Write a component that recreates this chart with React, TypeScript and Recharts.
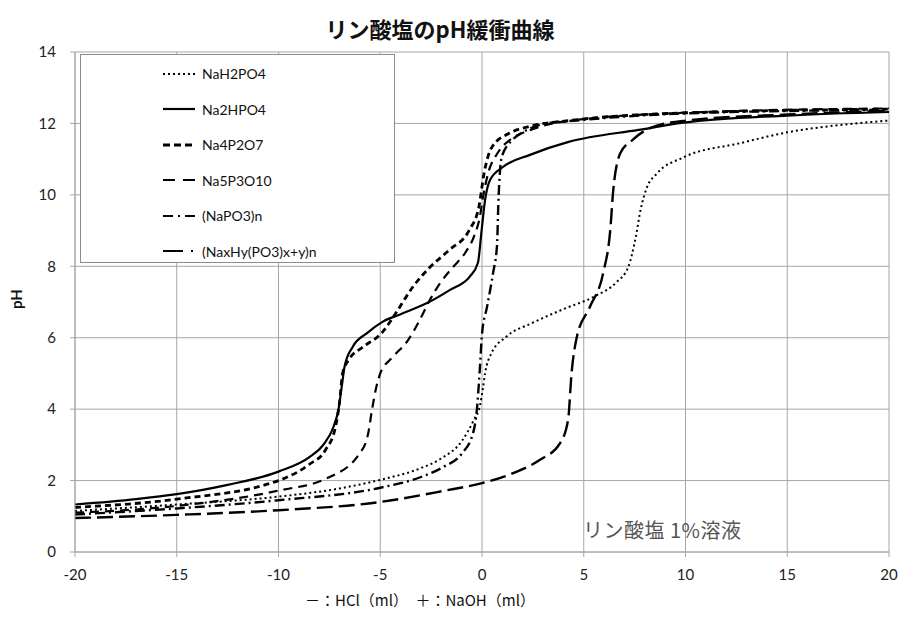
import React from 'react';
import { LineChart, Line, XAxis, YAxis, CartesianGrid } from 'recharts';

// 滴定量 (ml) と pH の読み取り値
const naH2PO4 = [
  { x: -20, y: 1.15 }, { x: -15, y: 1.33 }, { x: -10, y: 1.55 }, { x: -7, y: 1.78 },
  { x: -5, y: 2.02 }, { x: -3, y: 2.35 }, { x: -2, y: 2.62 }, { x: -1, y: 3.1 },
  { x: -0.4, y: 3.7 }, { x: -0.1, y: 4.1 }, { x: 0.05, y: 4.6 }, { x: 0.15, y: 5.0 },
  { x: 0.45, y: 5.55 }, { x: 1.2, y: 6.03 }, { x: 2.5, y: 6.42 }, { x: 4, y: 6.8 },
  { x: 5.5, y: 7.15 }, { x: 6.6, y: 7.55 }, { x: 7.2, y: 8.0 }, { x: 7.55, y: 8.8 },
  { x: 7.8, y: 9.6 }, { x: 8.1, y: 10.2 }, { x: 8.6, y: 10.6 }, { x: 9.9, y: 11.05 },
  { x: 12.7, y: 11.45 }, { x: 15, y: 11.75 }, { x: 17.5, y: 11.95 }, { x: 20, y: 12.08 },
];

const na2HPO4 = [
  { x: -20, y: 1.33 }, { x: -17, y: 1.48 }, { x: -15, y: 1.62 }, { x: -12.5, y: 1.88 },
  { x: -10, y: 2.25 }, { x: -8.5, y: 2.65 }, { x: -7.8, y: 3.0 }, { x: -7.3, y: 3.5 },
  { x: -7.05, y: 4.0 }, { x: -6.9, y: 4.6 }, { x: -6.75, y: 5.2 }, { x: -6.35, y: 5.75 },
  { x: -5.65, y: 6.13 }, { x: -4.87, y: 6.45 }, { x: -4.0, y: 6.66 }, { x: -2.7, y: 6.97 },
  { x: -1.57, y: 7.34 }, { x: -0.6, y: 7.71 }, { x: -0.2, y: 8.1 }, { x: -0.02, y: 9.0 },
  { x: 0.15, y: 9.85 }, { x: 0.4, y: 10.42 }, { x: 1.03, y: 10.78 }, { x: 2.36, y: 11.12 },
  { x: 4.3, y: 11.49 }, { x: 7.7, y: 11.82 }, { x: 9.9, y: 12.02 }, { x: 15, y: 12.22 },
  { x: 20, y: 12.32 },
];

const na4P2O7 = [
  { x: -20, y: 1.25 }, { x: -15, y: 1.48 }, { x: -10, y: 2.0 }, { x: -8.5, y: 2.45 },
  { x: -7.7, y: 2.85 }, { x: -7.2, y: 3.5 }, { x: -7.0, y: 4.2 }, { x: -6.85, y: 5.0 },
  { x: -6.5, y: 5.42 }, { x: -5.9, y: 5.72 }, { x: -4.9, y: 6.15 }, { x: -4.2, y: 6.72 },
  { x: -3.4, y: 7.42 }, { x: -2.6, y: 7.95 }, { x: -1.6, y: 8.46 }, { x: -0.64, y: 9.0 },
  { x: -0.15, y: 9.67 }, { x: 0.1, y: 10.6 }, { x: 0.5, y: 11.35 }, { x: 1.36, y: 11.73 },
  { x: 2.35, y: 11.92 }, { x: 4.3, y: 12.08 }, { x: 9.2, y: 12.28 }, { x: 20, y: 12.4 },
];

const na5P3O10 = [
  { x: -20, y: 1.1 }, { x: -15, y: 1.29 }, { x: -10, y: 1.72 }, { x: -7.6, y: 2.07 },
  { x: -6.0, y: 2.77 }, { x: -5.6, y: 3.3 }, { x: -5.4, y: 4.0 }, { x: -5.2, y: 4.6 },
  { x: -5.0, y: 5.0 }, { x: -4.4, y: 5.45 }, { x: -3.65, y: 5.92 }, { x: -3.1, y: 6.45 },
  { x: -2.56, y: 7.06 }, { x: -2.06, y: 7.53 }, { x: -1.42, y: 7.98 }, { x: -0.8, y: 8.4 },
  { x: -0.35, y: 8.9 }, { x: -0.1, y: 9.4 }, { x: 0.05, y: 9.94 }, { x: 0.3, y: 10.6 },
  { x: 0.8, y: 11.2 }, { x: 1.4, y: 11.55 }, { x: 2.3, y: 11.8 }, { x: 4, y: 12.05 },
  { x: 10, y: 12.3 }, { x: 20, y: 12.42 },
];

const naPO3n = [
  { x: -20, y: 1.05 }, { x: -15, y: 1.22 }, { x: -10, y: 1.45 }, { x: -5, y: 1.8 },
  { x: -3, y: 2.1 }, { x: -1.9, y: 2.38 }, { x: -1, y: 2.75 }, { x: -0.44, y: 3.33 },
  { x: -0.25, y: 4.0 }, { x: -0.12, y: 5.0 }, { x: 0.0, y: 6.1 }, { x: 0.25, y: 6.87 },
  { x: 0.54, y: 7.8 }, { x: 0.74, y: 8.6 }, { x: 0.8, y: 9.7 }, { x: 0.97, y: 11.06 },
  { x: 1.5, y: 11.54 }, { x: 2.0, y: 11.75 }, { x: 3.0, y: 11.98 }, { x: 5, y: 12.1 },
  { x: 10, y: 12.28 }, { x: 20, y: 12.38 },
];

const naxHyPO3n = [
  { x: -20, y: 0.95 }, { x: -15, y: 1.04 }, { x: -10, y: 1.17 }, { x: -5, y: 1.4 },
  { x: -2, y: 1.7 }, { x: 0, y: 1.93 }, { x: 1.5, y: 2.2 }, { x: 2.85, y: 2.58 },
  { x: 3.83, y: 3.04 }, { x: 4.23, y: 3.7 }, { x: 4.4, y: 5.0 }, { x: 4.66, y: 6.02 },
  { x: 5.3, y: 6.86 }, { x: 5.95, y: 7.8 }, { x: 6.3, y: 9.0 }, { x: 6.45, y: 10.13 },
  { x: 6.8, y: 11.17 }, { x: 7.4, y: 11.54 }, { x: 8.26, y: 11.87 }, { x: 10, y: 12.08 },
  { x: 15, y: 12.25 }, { x: 20, y: 12.35 },
];

const xTicks = [-20, -15, -10, -5, 0, 5, 10, 15, 20];
const yTicks = [0, 2, 4, 6, 8, 10, 12, 14];

const series = [
  { name: 'NaH2PO4', data: naH2PO4, dash: '2 3', width: 2, legendDash: '2 3' },
  { name: 'Na2HPO4', data: na2HPO4, dash: undefined, width: 2.2, legendDash: undefined },
  { name: 'Na4P2O7', data: na4P2O7, dash: '6 4', width: 2.8, legendDash: '7 4' },
  { name: 'Na5P3O10', data: na5P3O10, dash: '9 6', width: 2.2, legendDash: '12 8' },
  { name: '(NaPO3)n', data: naPO3n, dash: '10 4 2 4', width: 2.4, legendDash: '10 5 2 5' },
  { name: '(NaxHy(PO3)x+y)n', data: naxHyPO3n, dash: '16 6', width: 2.4, legendDash: '20 8 2 4' },
];

const baseFont = 'Lato, "Noto Sans", sans-serif';
const jpFont = '"Noto Sans CJK JP", sans-serif';

const LegendBox = () => (
  <div
    style={{
      position: 'absolute', left: 80, top: 54, width: 315, height: 209,
      border: '1px solid #8c8c8c', background: '#fff', boxSizing: 'border-box', paddingTop: 1,
    }}
  >
    {series.map((s) => (
      <div key={s.name} style={{ display: 'flex', alignItems: 'center', height: 35.5 }}>
        <svg width={121} height={10}>
          <line
            x1={82} y1={5} x2={114} y2={5} stroke="#000"
            strokeWidth={s.name === 'Na4P2O7' ? 2.8 : 2.2}
            strokeDasharray={s.legendDash}
          />
        </svg>
        <span style={{ fontFamily: baseFont, fontSize: 14, color: '#111' }}>{s.name}</span>
      </div>
    ))}
  </div>
);

export default function App() {
  return (
    <div style={{ position: 'absolute', left: 0, top: 0, width: 901, height: 619, background: '#fff' }}>
      <LineChart width={901} height={619} margin={{ top: 52, right: 12, left: 0, bottom: 0 }}>
        <CartesianGrid stroke="#a6a6a6" strokeWidth={1} vertical horizontal />
        <XAxis
          type="number" dataKey="x" domain={[-20, 20]} ticks={xTicks} height={67}
          axisLine={{ stroke: '#a6a6a6' }} tickLine={{ stroke: '#a6a6a6' }} tickSize={5} tickMargin={12}
          tick={{ fill: '#222', fontSize: 15, fontFamily: baseFont }} allowDataOverflow
        />
        <YAxis
          type="number" dataKey="y" domain={[0, 14]} ticks={yTicks} width={75}
          axisLine={{ stroke: '#a6a6a6' }} tickLine={{ stroke: '#a6a6a6' }} tickSize={5} tickMargin={14}
          tick={{ fill: '#222', fontSize: 15, fontFamily: baseFont }}
        />
        {series.map((s) => (
          <Line
            key={s.name} name={s.name} data={s.data} dataKey="y" type="monotone"
            stroke="#000" strokeWidth={s.width} strokeDasharray={s.dash}
            dot={false} activeDot={false} isAnimationActive={false}
          />
        ))}
      </LineChart>
      <LegendBox />
      <div
        style={{
          position: 'absolute', left: 0, width: 880, top: 12, textAlign: 'center',
          fontFamily: jpFont, fontWeight: 700, fontSize: 22, color: '#111',
        }}
      >
        リン酸塩のpH緩衝曲線
      </div>
      <div
        style={{
          position: 'absolute', left: 6, top: 290, transform: 'rotate(-90deg)',
          fontFamily: baseFont, fontWeight: 700, fontSize: 15, color: '#111',
        }}
      >
        pH
      </div>
      <div
        style={{
          position: 'absolute', left: 0, width: 840, top: 589, textAlign: 'center',
          fontFamily: jpFont, fontSize: 15, color: '#111', whiteSpace: 'pre',
        }}
      >
        －：HCl（ml）　＋：NaOH（ml）
      </div>
      <div
        style={{
          position: 'absolute', left: 583, top: 515, fontFamily: jpFont, fontSize: 20,
          letterSpacing: 0.5, color: '#555', whiteSpace: 'pre',
        }}
      >
        リン酸塩 1%溶液
      </div>
    </div>
  );
}
